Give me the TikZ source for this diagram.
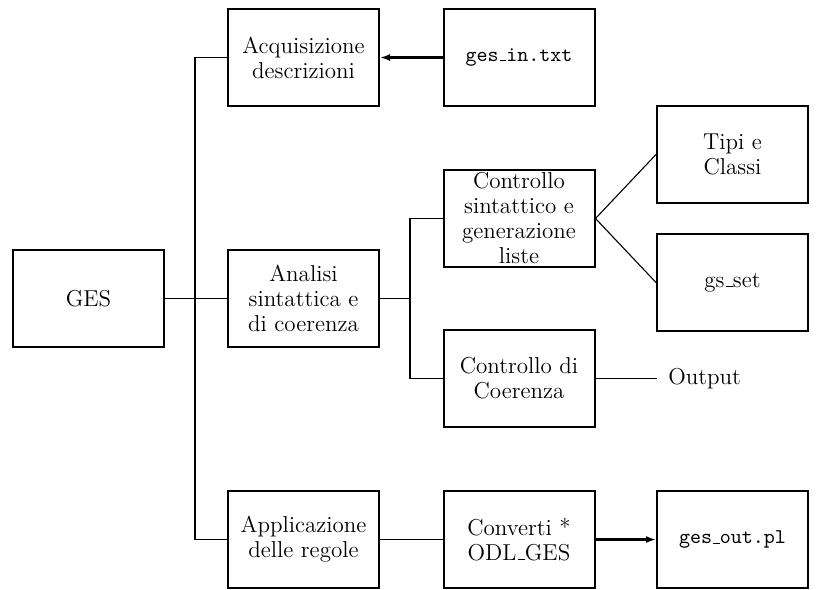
\documentclass[tikz,border=0pt]{standalone}
\usetikzlibrary{arrows.meta}
\newcommand\ulow{\leavevmode\kern.06em\vbox{\hrule width.3em height 0.5pt}}
\begin{document}
\begin{tikzpicture}[x=0.5pt,y=-0.5pt,
  box/.style={draw, line width=1pt, minimum width=75.5pt, minimum height=48.5pt,
    inner sep=0pt, align=center, font=\fontsize{11.5}{12.5}\selectfont},
  conn/.style={line width=0.9pt},
  thinconn/.style={line width=0.55pt},
  arr/.style={line width=1.1pt, -{Latex[length=5pt,width=3.5pt]}}]
\useasboundingbox (0,0) rectangle (817,589);
\node[box] (ges) at (88.5,298.5) {GES};
\node[box] (acq) at (303.5,57.5) {Acquisizione\\descrizioni};
\node[box] (gin) at (519,57.5) {\ttfamily\fontsize{10.5}{12}\selectfont ges\ulow in.txt};
\node[box] (cs) at (519,218.5) {Controllo\\sintattico e\\generazione\\liste};
\node[box] (tc) at (732.5,154.5) {Tipi e\\Classi};
\node[box] (gs) at (732.5,282.5) {gs\ulow set};
\node[box] (an) at (303.5,298.5) {Analisi\\sintattica e\\di coerenza};
\node[box] (cc) at (519,378.5) {Controllo di\\Coerenza};
\node[anchor=west, inner xsep=5.5pt, inner ysep=0pt, font=\fontsize{11.5}{12.5}\selectfont] (out) at (657,378.5) {Output};
\node[box] (app) at (303.5,539.5) {Applicazione\\delle regole};
\node[box] (conv) at (519,539.5) {Converti *\\ODL\ulow GES};
\node[box] (gout) at (732.5,539.5) {\ttfamily\fontsize{10.5}{12}\selectfont ges\ulow out.pl};
\coordinate (j1) at (195,298.5);
\coordinate (j2) at (410,298.5);
\draw[conn] (acq.west) -| (j1) |- (app.west);
\draw[conn] (ges.east) -- (an.west);
\draw[conn] (an.east) -- (j2);
\draw[conn] (cs.west) -| (j2) |- (cc.west);
\draw[thinconn] (cs.east) -- (tc.west);
\draw[thinconn] (cs.east) -- (gs.west);
\draw[conn] (cc.east) -- (out.west);
\draw[arr] (gin.west) -- (acq.east);
\draw[conn] (app.east) -- (conv.west);
\draw[arr] (conv.east) -- (gout.west);
\end{tikzpicture}
\end{document}
